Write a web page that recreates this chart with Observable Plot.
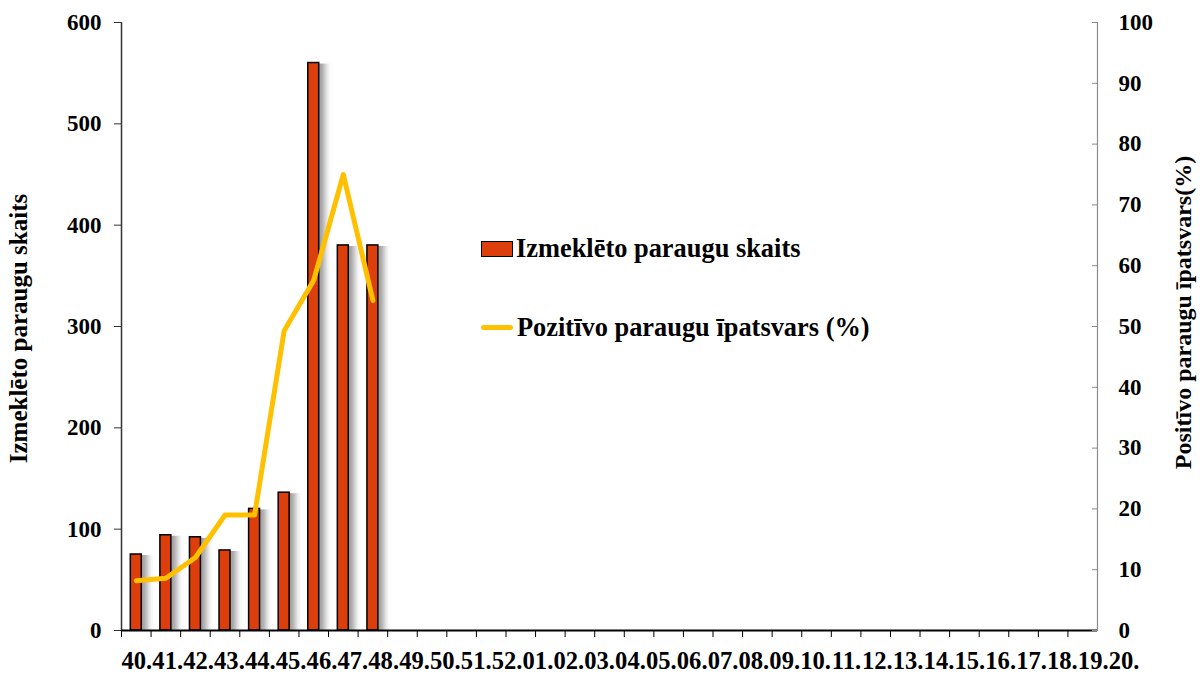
<!DOCTYPE html>
<html>
<head>
<meta charset="utf-8">
<script src="https://cdn.jsdelivr.net/npm/d3@7"></script>
<script src="https://cdn.jsdelivr.net/npm/@observablehq/plot@0.6"></script>
<style>
  html, body { margin: 0; padding: 0; background: #fff; }
  #wrap { position: relative; width: 1202px; height: 680px; font-family: "Liberation Serif", "Times New Roman", serif; font-weight: bold; }
  .leg { position: absolute; left: 481px; display: flex; align-items: center; font-size: 26.4px; color: #000; white-space: nowrap; }
  .sw-bar { width: 30px; height: 14px; background: #DC3F0C; border: 1.5px solid #000; margin-right: 3px; }
  .sw-line { width: 32px; height: 5px; background: #FFC000; border-radius: 3px; margin-right: 4px; }
</style>
</head>
<body>
<div id="wrap"></div>
<script>
const weeks = ["40","41","42","43","44","45","46","47","48","49","50","51","52",
  "01","02","03","04","05","06","07","08","09","10","11","12","13","14","15","16","17","18","19","20"];
const samples = [75, 94, 92, 79, 120, 136, 560, 380, 380];
const positivePct = [8.2, 8.6, 12, 19, 19, 49.3, 57.6, 75, 54.3];
const leftTicks = [0, 100, 200, 300, 400, 500, 600];
const rightTicks = [0, 10, 20, 30, 40, 50, 60, 70, 80, 90, 100];
const leftTitle = "Izmeklēto paraugu skaits";
const rightTitle = "Positīvo paraugu īpatsvars(%)";
const legendBar = "Izmeklēto paraugu skaits";
const legendLine = "Pozitīvo paraugu īpatsvars (%)";

const ratio = leftTicks[leftTicks.length - 1] / rightTicks[rightTicks.length - 1];
const barData = samples.map((v, i) => ({week: weeks[i], v}));
const lineData = positivePct.map((p, i) => ({week: weeks[i], y: p * ratio}));

const W = 1202, H = 680, mL = 121, mR = 105, mT = 22, mB = 50;
const step = (W - mL - mR) / weeks.length;
const pad = 0.63;
const labelFont = 24.6;
const labelPitch = 30.85; // labels are set wider than the band step, as in the original

const chart = Plot.plot({
  width: W, height: H,
  marginLeft: mL, marginRight: mR, marginTop: mT, marginBottom: mB,
  style: {fontFamily: "'Liberation Serif', 'Times New Roman', serif", fontWeight: "bold", fontSize: "23px", color: "#000", background: "#fff", overflow: "visible"},
  x: {domain: weeks, paddingInner: pad, paddingOuter: pad / 2, round: false, axis: null},
  y: {domain: [leftTicks[0], leftTicks[leftTicks.length - 1]], axis: null},
  marks: [
    // bar shadows
    Plot.barY(barData, {x: "week", y: "v", fill: "#6e6e6e", fillOpacity: 0.7, dx: 6, dy: 1}),
    Plot.barY(barData, {x: "week", y: "v", fill: "#DC3F0C", stroke: "#000", strokeWidth: 1.5}),
    // left axis line
    Plot.ruleX([weeks[0]], {dx: -step / 2, y1: leftTicks[0], y2: leftTicks[leftTicks.length - 1], stroke: "#333", strokeWidth: 1.5}),
    // right axis line
    Plot.ruleX([weeks[weeks.length - 1]], {dx: step / 2, y1: leftTicks[0], y2: leftTicks[leftTicks.length - 1], stroke: "#8c8c8c", strokeWidth: 1.2}),
    // x baseline
    Plot.ruleY([0], {stroke: "#000", strokeWidth: 2}),
    Plot.axisY(leftTicks, {anchor: "left", tickSize: 7, tickPadding: 13, fontSize: 23, fontWeight: "bold", label: null, stroke: "#333"}),
    Plot.axisY(rightTicks.map(d => d * ratio), {anchor: "right", tickSize: 0, tickPadding: 21, tickFormat: d => String(Math.round(d / ratio)), fontSize: 23, fontWeight: "bold", label: null}),
    Plot.axisY(rightTicks.map(d => d * ratio), {anchor: "right", tickSize: 6, dx: -6, tickFormat: () => "", label: null, stroke: "#8c8c8c"}),
    Plot.axisX(weeks, {anchor: "bottom", tickSize: 7, dx: -step / 2, tickFormat: () => "", label: null, stroke: "#000"}),
    Plot.axisX(weeks, {anchor: "bottom", tickSize: 0, tickPadding: 21, tickFormat: d => d + ".", fontSize: labelFont, fontWeight: "bold", label: null}),
    Plot.line(lineData, {x: "week", y: "y", stroke: "#FFC000", strokeWidth: 5, strokeLinejoin: "round", strokeLinecap: "round"}),
    Plot.text([leftTitle], {frameAnchor: "left", textAnchor: "middle", lineAnchor: "middle", rotate: -90, dx: -103, dy: 2, fontSize: 25, fontWeight: "bold"}),
    Plot.text([rightTitle], {frameAnchor: "right", textAnchor: "middle", lineAnchor: "middle", rotate: -90, dx: 86, dy: -14, fontSize: 24, fontWeight: "bold"})
  ]
});

const svg = d3.select(chart);
// blur the bar shadows
const defs = svg.insert("defs", ":first-child");
defs.append("filter").attr("id", "shadowBlur").attr("x", "-80%").attr("y", "-5%").attr("width", "260%").attr("height", "110%")
  .append("feGaussianBlur").attr("stdDeviation", "3 0.5");
svg.select("g[aria-label=bar]").attr("filter", "url(#shadowBlur)");

// spread the week labels at the original's wider pitch
const labelGroups = svg.selectAll("g[aria-label='x-axis tick label']").nodes();
if (labelGroups.length) {
  const g = labelGroups[labelGroups.length - 1];
  d3.select(g).selectAll("text").each(function(_, i) {
    const off = (labelFont * 1.25 / 2 - step / 2) + i * (labelPitch - step);
    this.setAttribute("dx", off.toFixed(2));
  });
}

const wrap = document.getElementById("wrap");
wrap.appendChild(chart);

const l1 = document.createElement("div");
l1.className = "leg"; l1.style.top = "233px";
l1.innerHTML = '<span class="sw-bar"></span><span></span>';
l1.lastChild.textContent = legendBar;
wrap.appendChild(l1);

const l2 = document.createElement("div");
l2.className = "leg"; l2.style.top = "312px";
l2.innerHTML = '<span class="sw-line"></span><span></span>';
l2.lastChild.textContent = legendLine;
wrap.appendChild(l2);
</script>
</body>
</html>
